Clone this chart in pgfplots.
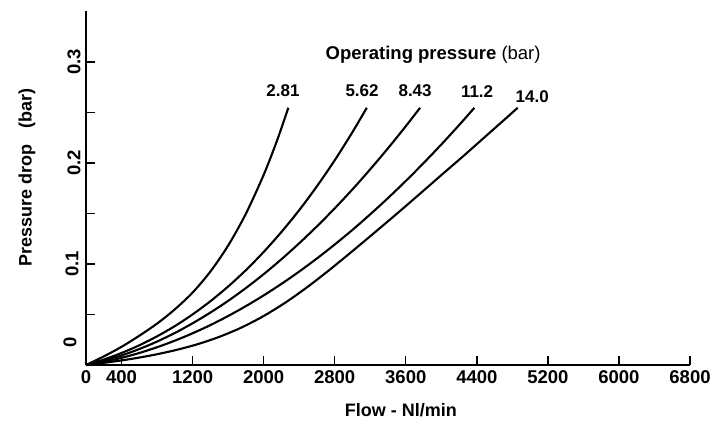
\documentclass[border=0pt]{standalone}
\usepackage{fontspec}
\setmainfont{Liberation Sans}
\usepackage{pgfplots}
\pgfplotsset{compat=1.18}
\usetikzlibrary{calc}
\begin{document}
\begin{tikzpicture}
\begin{axis}[
  name=ax,
  scale only axis,
  width=604bp, height=353.5bp,
  xmin=0, xmax=6800, ymin=0, ymax=0.35,
  enlargelimits=false,
  clip=false,
  axis lines=left,
  axis line style={-, line width=1.6bp, black},
  tick align=inside,
  xtick pos=left, ytick pos=left,
  major tick length=9bp, minor tick length=9bp,
  tick style={line width=1.4bp, black},
  xtick={0,400,1200,2000,2800,3600,4400,5200,6000,6800},
  xticklabels={0,400,1200,2000,2800,3600,4400,5200,6000,6800},
  ytick={0,0.1,0.2,0.3},
  yticklabels={},
  minor ytick={0.05,0.15,0.25},
  every tick label/.append style={font=\bfseries\fontsize{18.5bp}{20bp}\selectfont},
  xticklabel style={yshift=-2bp},
  every axis y label/.style={at={(rel axis cs:0,0.53)}, xshift=-59bp, rotate=90, anchor=center, font=\bfseries\fontsize{18bp}{20bp}\selectfont},
  every axis x label/.style={at={(rel axis cs:0.5215,0)}, yshift=-45bp, anchor=center, font=\bfseries\fontsize{18bp}{20bp}\selectfont},
  ylabel={Pressure drop\hspace{16bp}(bar)},
  xlabel={Flow - Nl/min},
]
% 2.81 bar
\addplot[black, line width=2.1bp, smooth] coordinates {
(0,0) (200,0.0085) (400,0.0180) (600,0.0290) (800,0.0410) (1000,0.0551)
(1200,0.0717) (1400,0.0925) (1600,0.1182) (1800,0.1498) (2000,0.1882)
(2150,0.2221) (2278,0.2547)};
% 5.62 bar
\addplot[black, line width=2.1bp, smooth] coordinates {
(0,0) (200,0.0054) (400,0.0119) (600,0.0195) (800,0.0284) (1000,0.0385)
(1200,0.0501) (1400,0.0631) (1600,0.0777) (1800,0.0939) (2000,0.1119)
(2200,0.1317) (2400,0.1533) (2600,0.1770) (2800,0.2027) (3000,0.2306)
(3161,0.2547)};
% 8.43 bar
\addplot[black, line width=2.1bp, smooth] coordinates {
(0,0) (200,0.0042) (400,0.0095) (600,0.0158) (800,0.0232) (1000,0.0317)
(1200,0.0413) (1400,0.0519) (1600,0.0635) (1800,0.0762) (2000,0.0899)
(2200,0.1047) (2400,0.1205) (2600,0.1373) (2800,0.1551) (3000,0.1739)
(3200,0.1938) (3400,0.2146) (3600,0.2364) (3761,0.2547)};
% 11.2 bar
\addplot[black, line width=2.1bp, smooth] coordinates {
(0,0) (200,0.0031) (400,0.0071) (600,0.0119) (800,0.0176) (1000,0.0241)
(1200,0.0314) (1400,0.0395) (1600,0.0485) (1800,0.0583) (2000,0.0689)
(2200,0.0803) (2400,0.0925) (2600,0.1055) (2800,0.1193) (3000,0.1338)
(3200,0.1492) (3400,0.1653) (3600,0.1822) (3800,0.1999) (4000,0.2183)
(4200,0.2375) (4373,0.2547)};
% 14.0 bar
\addplot[black, line width=2.1bp, smooth] coordinates {
(0,0) (250,0.0027) (500,0.0059) (750,0.0098) (1000,0.01455) (1250,0.02045)
(1500,0.02785) (1750,0.0371) (2000,0.0485) (2250,0.0621) (2500,0.0777)
(2750,0.0948) (3000,0.1128) (3250,0.1312) (3500,0.1498) (3750,0.1688)
(4000,0.1880) (4250,0.2070) (4500,0.2265) (4750,0.2460) (4860,0.2547)};
\node[font=\fontsize{18.5bp}{20bp}\selectfont] at (axis cs:3908,0.307) {\textbf{Operating pressure} (bar)};
\node[font=\bfseries\fontsize{17bp}{20bp}\selectfont] at (axis cs:2218,0.2713) {2.81};
\node[font=\bfseries\fontsize{17bp}{20bp}\selectfont] at (axis cs:3108,0.2713) {5.62};
\node[font=\bfseries\fontsize{17bp}{20bp}\selectfont] at (axis cs:3705,0.2713) {8.43};
\node[font=\bfseries\fontsize{17bp}{20bp}\selectfont] at (axis cs:4403,0.2705) {11.2};
\node[font=\bfseries\fontsize{17bp}{20bp}\selectfont] at (axis cs:5023,0.2657) {14.0};
\node[font=\bfseries\fontsize{18.5bp}{20bp}\selectfont, xshift=-6bp, rotate=90, anchor=south] at (axis cs:0,0.022) {0};
\node[font=\bfseries\fontsize{18.5bp}{20bp}\selectfont, xshift=-4bp, rotate=90, anchor=south] at (axis cs:0,0.1) {0.1};
\node[font=\bfseries\fontsize{18.5bp}{20bp}\selectfont, xshift=-2bp, rotate=90, anchor=south] at (axis cs:0,0.2) {0.2};
\node[font=\bfseries\fontsize{18.5bp}{20bp}\selectfont, xshift=-2bp, rotate=90, anchor=south] at (axis cs:0,0.3) {0.3};
\end{axis}
\pgfresetboundingbox
\path ($(ax.south west)+(-86bp,-57bp)$) rectangle ($(ax.north east)+(21bp,11.5bp)$);
\end{tikzpicture}
\end{document}
